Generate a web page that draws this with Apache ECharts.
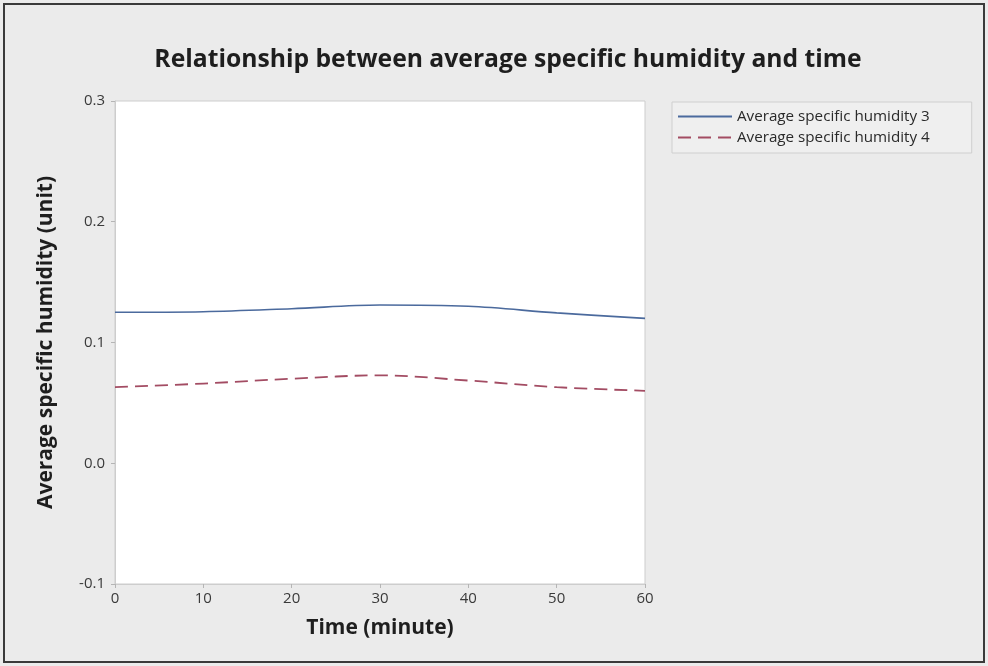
<!DOCTYPE html>
<html>
<head>
<meta charset="utf-8">
<script src="https://cdn.jsdelivr.net/npm/echarts@6/dist/echarts.min.js"></script>
<style>
html,body{margin:0;padding:0;background:#ebebeb;}
#chart{width:988px;height:666px;}
</style>
</head>
<body>
<div id="chart"></div>
<script>
const times = [0, 10, 20, 30, 40, 50, 60];
const humidity3 = [0.125, 0.1255, 0.128, 0.131, 0.130, 0.1245, 0.120];
const humidity4 = [0.063, 0.066, 0.070, 0.0728, 0.0685, 0.063, 0.060];
const seriesNames = ['Average specific humidity 3', 'Average specific humidity 4'];
const yTicks = [-0.1, 0.0, 0.1, 0.2, 0.3];
const xTicks = [0, 10, 20, 30, 40, 50, 60];

const FONT = '"Open Sans", "Noto Sans", sans-serif';
const chart = echarts.init(document.getElementById('chart'));
chart.setOption({
  backgroundColor: '#ebebeb',
  animation: false,
  textStyle: { fontFamily: FONT },
  title: {
    text: 'Relationship between average specific humidity and time',
    left: 503, textAlign: 'center', top: 42,
    textStyle: { fontFamily: FONT, fontWeight: 'bold', fontSize: 24.7, color: '#1e1e1e' }
  },
  legend: {
    left: 672, top: 102, orient: 'vertical',
    backgroundColor: 'rgba(242,242,242,0.6)',
    borderColor: '#cfcfcf', borderWidth: 1, borderRadius: 0,
    padding: [7, 42, 8, 5],
    itemWidth: 54, itemHeight: 14, itemGap: 6,
    itemStyle: { opacity: 0, borderWidth: 0 },
    textStyle: { fontFamily: FONT, fontSize: 15.2, color: '#2a2a2a' },
    data: seriesNames
  },
  graphic: [{
    type: 'rect', silent: true, z: 100,
    shape: { x: 4, y: 4, width: 980, height: 658 },
    style: { fill: 'none', stroke: '#3a3a3a', lineWidth: 2 }
  }],
  grid: { left: 115, right: 343, top: 101, bottom: 82, show: true,
    backgroundColor: '#ffffff', borderColor: '#cdcdcd', borderWidth: 1 },
  xAxis: {
    type: 'value', min: 0, max: 60, interval: 10,
    name: 'Time (minute)', nameLocation: 'middle', nameGap: 34,
    nameTextStyle: { fontFamily: FONT, fontWeight: 'bold', fontSize: 21, color: '#1e1e1e' },
    axisLine: { show: true, onZero: false, lineStyle: { color: '#cdcdcd' } },
    axisTick: { show: true, length: 4, lineStyle: { color: '#b5b5b5' } },
    axisLabel: { fontFamily: FONT, fontSize: 15, color: '#3a3a3a', margin: 7,
      formatter: v => xTicks.includes(v) ? String(v) : '' },
    splitLine: { show: false }
  },
  yAxis: {
    type: 'value', min: -0.1, max: 0.3, interval: 0.1,
    name: 'Average specific humidity (unit)', nameLocation: 'middle', nameGap: 58,
    nameTextStyle: { fontFamily: FONT, fontWeight: 'bold', fontSize: 21, color: '#1e1e1e' },
    axisLine: { show: true, onZero: false, lineStyle: { color: '#cdcdcd' } },
    axisTick: { show: true, length: 4, lineStyle: { color: '#b5b5b5' } },
    axisLabel: { fontFamily: FONT, fontSize: 15, color: '#3a3a3a', margin: 10,
      formatter: v => {
        const t = yTicks.find(y => Math.abs(y - v) < 1e-9);
        return t === undefined ? '' : t.toFixed(1);
      } },
    splitLine: { show: false }
  },
  series: [
    { name: seriesNames[0], type: 'line', smooth: 0.35, symbol: 'none',
      data: times.map((t, i) => [t, humidity3[i]]),
      lineStyle: { color: '#4b6a9d', width: 1.6, type: 'solid' },
      itemStyle: { color: '#4b6a9d' } },
    { name: seriesNames[1], type: 'line', smooth: 0.35, symbol: 'none',
      data: times.map((t, i) => [t, humidity4[i]]),
      lineStyle: { color: '#a34c63', width: 1.8, type: [13, 7] },
      itemStyle: { color: '#a34c63' } }
  ]
});
</script>
</body>
</html>
